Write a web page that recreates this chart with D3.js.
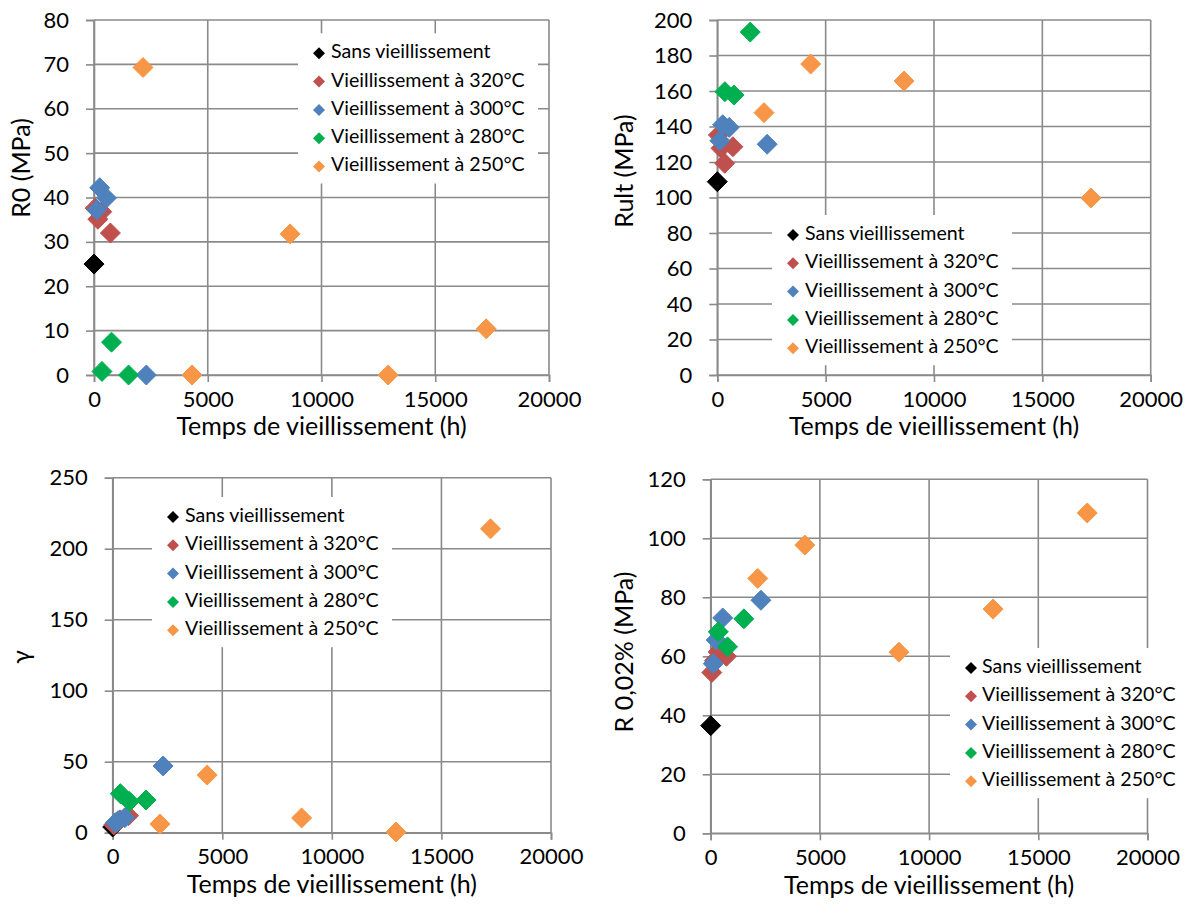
<!DOCTYPE html>
<html><head><meta charset="utf-8">
<script src="https://cdn.jsdelivr.net/npm/d3@7"></script>
<style>
body{margin:0;background:#fff;}
svg{display:block;}
text{font-family:Lato,"Open Sans",sans-serif;fill:#000;}
</style></head>
<body>
<svg id="chart" width="1196" height="913"></svg>
<script>
// ---- data ----
const seriesNames = ["Sans vieillissement","Vieillissement à 320°C","Vieillissement à 300°C","Vieillissement à 280°C","Vieillissement à 250°C"];
const timeSans = [0];
const time320 = [50, 170, 340, 720];
const time300 = [120, 250, 550, 2300];
const time280 = [350, 770, 1520];
const time250 = [2155, 4310, 8620, 12930, 17240];

const r0Sans = [25];
const r0_320 = [37.6, 35.1, 36.8, 32.0];
const r0_300 = [37.2, 42.2, 39.9, 0];
const r0_280 = [0.8, 7.4, 0];
const r0_250 = [69.3, 0, 31.8, 0, 10.4];

const rultSans = [108.9];
const rult_320 = [135.2, 127.7, 119.3, 128.6];
const rult_300 = [132, 141, 139.5, 130];
const rult_280 = [159.6, 157.7, 193.2];
const rult_250 = [147.8, 175.2, 165.6, null, 99.7];

const gammaSans = [4];
const gamma_320 = [5.5, 7, 9, 12];
const gamma_300 = [7, 8.5, 10.5, 47];
const gamma_280 = [27.5, 22, 23];
const gamma_250 = [6.1, 40.6, 10.4, 0.5, 214];

const r002Sans = [36.5];
const r002_320 = [54.5, 58.5, 61.5, 60];
const r002_300 = [57.5, 65.5, 73, 79];
const r002_280 = [68.3, 63.2, 72.7];
const r002_250 = [86.4, 97.7, 61.4, 76, 108.6];

const xTicks = [0, 5000, 10000, 15000, 20000];
const yTicksR0 = [0,10,20,30,40,50,60,70,80];
const yTicksRult = [0,20,40,60,80,100,120,140,160,180,200];
const yTicksGamma = [0,50,100,150,200,250];
const yTicksR002 = [0,20,40,60,80,100,120];

const xTitle = "Temps de vieillissement (h)";
const times = [timeSans, time320, time300, time280, time250];
const colors = ["#000000", "#C0504D", "#4F81BD", "#00B050", "#F79646"];

// ---- layout ----
const panels = [
  {yTitle:"R0 (MPa)", vals:[r0Sans,r0_320,r0_300,r0_280,r0_250], yTicks:yTicksR0,
   l:94, r:549, t:20, b:375, ytx:24, yty:168, leg:{mx:319, tx:331, y0:53.3}},
  {yTitle:"Rult (MPa)", vals:[rultSans,rult_320,rult_300,rult_280,rult_250], yTicks:yTicksRult,
   l:717.3, r:1150.7, t:20, b:375, ytx:627, yty:171, leg:{mx:793, tx:805, y0:235}},
  {yTitle:"γ", vals:[gammaSans,gamma_320,gamma_300,gamma_280,gamma_250], yTicks:yTicksGamma,
   l:112.7, r:551, t:477.7, b:832.7, ytx:24, yty:657, leg:{mx:173, tx:185, y0:517}},
  {yTitle:"R 0,02% (MPa)", vals:[r002Sans,r002_320,r002_300,r002_280,r002_250], yTicks:yTicksR002,
   l:710.7, r:1147.5, t:479.3, b:833.3, ytx:627, yty:652, leg:{mx:971, tx:982, y0:668}}
];

const svg = d3.select("#chart");
const grid = "#8a8a8a";
const diamond = s => `M0,${-s}L${s},0L0,${s}L${-s},0Z`;

panels.forEach(p => {
  const g = svg.append("g");
  const x = d3.scaleLinear().domain([0, 20000]).range([p.l, p.r]);
  const y = d3.scaleLinear().domain([0, d3.max(p.yTicks)]).range([p.b, p.t]);

  // gridlines
  g.append("g").selectAll("line").data(p.yTicks).join("line")
    .attr("x1", p.l).attr("x2", p.r).attr("y1", d => y(d)).attr("y2", d => y(d))
    .attr("stroke", grid).attr("stroke-width", 1.6);
  g.append("g").selectAll("line").data(xTicks).join("line")
    .attr("y1", p.t).attr("y2", p.b).attr("x1", d => x(d)).attr("x2", d => x(d))
    .attr("stroke", grid).attr("stroke-width", 1.6);

  // axes
  const yAxis = d3.axisLeft(y).tickValues(p.yTicks).tickSize(8).tickPadding(17).tickFormat(d3.format("d"));
  const ga = g.append("g").attr("transform", `translate(${p.l},0)`).call(yAxis);
  const xAxis = d3.axisBottom(x).tickValues(xTicks).tickSize(7).tickPadding(9).tickFormat(d3.format("d"));
  const gb = g.append("g").attr("transform", `translate(0,${p.b})`).call(xAxis);
  [ga, gb].forEach(a => {
    a.select(".domain").attr("stroke", grid).attr("stroke-width", 1.6);
    a.selectAll(".tick line").attr("stroke", grid).attr("stroke-width", 1.6);
    a.selectAll(".tick text").attr("font-family", "Lato").attr("font-size", 22).attr("fill", "#000");
  });

  // axis titles
  g.append("text").attr("x", (p.l + p.r) / 2).attr("y", p.b + 54)
    .attr("text-anchor", "middle").attr("dominant-baseline", "middle")
    .attr("font-size", 25).text(xTitle);
  g.append("text").attr("transform", `translate(${p.ytx},${p.yty}) rotate(-90)`)
    .attr("text-anchor", "middle").attr("dominant-baseline", "middle")
    .attr("font-size", 25).text(p.yTitle);

  // legend
  const lg = g.append("g");
  const rowH = 28.3;
  lg.append("rect").attr("x", p.leg.mx - 21).attr("y", p.leg.y0 - 20)
    .attr("width", 240).attr("height", rowH * 4 + 37).attr("fill", "#fff");
  seriesNames.forEach((n, i) => {
    const yy = p.leg.y0 + i * rowH;
    lg.append("path").attr("d", diamond(6)).attr("transform", `translate(${p.leg.mx},${yy})`)
      .attr("fill", colors[i]);
    lg.append("text").attr("x", p.leg.tx).attr("y", yy).attr("dominant-baseline", "middle")
      .attr("font-size", 19.6).text(n);
  });

  // points
  p.vals.forEach((vals, i) => {
    const pts = times[i].map((t, j) => ({t, v: vals[j]})).filter(d => d.v != null);
    g.append("g").selectAll("path").data(pts).join("path")
      .attr("d", diamond(10))
      .attr("transform", d => `translate(${x(d.t)},${y(d.v)})`)
      .attr("fill", colors[i]).attr("stroke", colors[i]).attr("stroke-width", 1);
  });
});
</script>
</body></html>
